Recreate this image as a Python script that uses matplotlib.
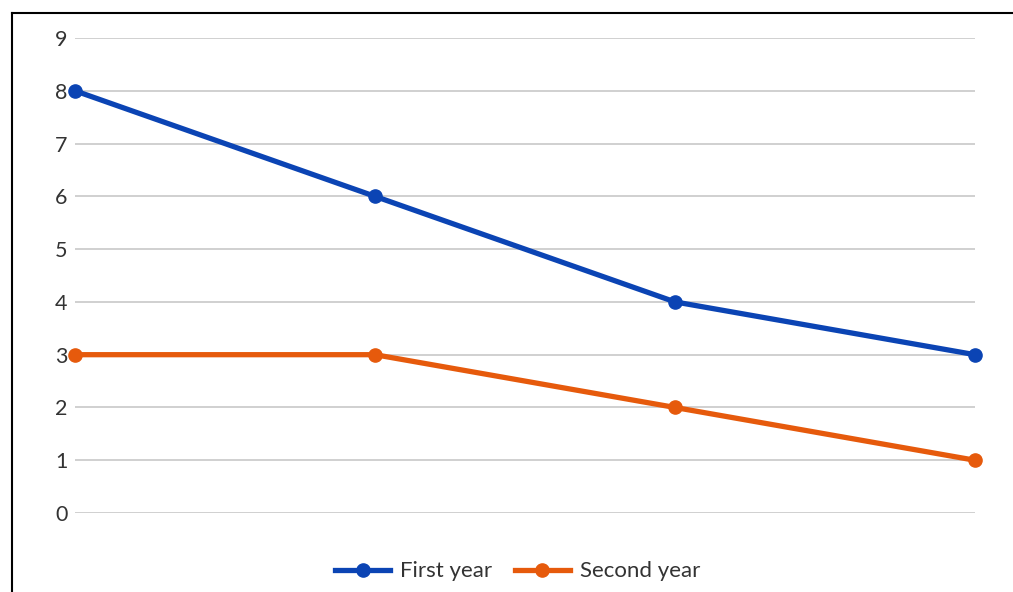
import numpy as np
import matplotlib
matplotlib.use('Agg')
import matplotlib.pyplot as plt
from matplotlib.lines import Line2D

categories = ['A', 'B', 'C', 'D']
first_year = [8, 6, 4, 3]
second_year = [3, 3, 2, 1]
yticks = list(range(0, 10))

plt.rcParams['font.family'] = ['Lato', 'DejaVu Sans']

fig = plt.figure(figsize=(10.13, 5.92), dpi=100)
ax = fig.add_axes([0.074, 0.1334, 0.8885, 0.8024])

x = np.arange(len(categories))
ax.plot(x, first_year, color='#0b44b4', lw=3.8, marker='o', ms=9.5,
        label='First year', clip_on=False, zorder=3)
ax.plot(x, second_year, color='#e65a0c', lw=3.8, marker='o', ms=9.5,
        label='Second year', clip_on=False, zorder=3)

ax.set_xlim(0, 3)
ax.set_ylim(0, 9)
ax.set_yticks(yticks)
ax.set_xticks([])
ax.grid(axis='y', color='#d0d0d0', lw=1.4)
ax.set_axisbelow(True)
for s in ax.spines.values():
    s.set_visible(False)
ax.tick_params(axis='y', length=0, pad=5.5, labelsize=15.5, labelcolor='#333333')

ax.legend(loc='center', bbox_to_anchor=(0.511, 0.035), bbox_transform=fig.transFigure,
          ncol=2, frameon=False, fontsize=16, handlelength=2.5,
          columnspacing=1.0, handletextpad=0.45, labelcolor='#333333')

# outer frame (left and top edges only visible)
bx = 11.5 / 1013
by = 1 - 12.5 / 592
fig.add_artist(Line2D([bx, bx], [0, by], color='black', lw=1.5, transform=fig.transFigure))
fig.add_artist(Line2D([bx, 1], [by, by], color='black', lw=1.5, transform=fig.transFigure))

fig.savefig('out.png', dpi=100)
